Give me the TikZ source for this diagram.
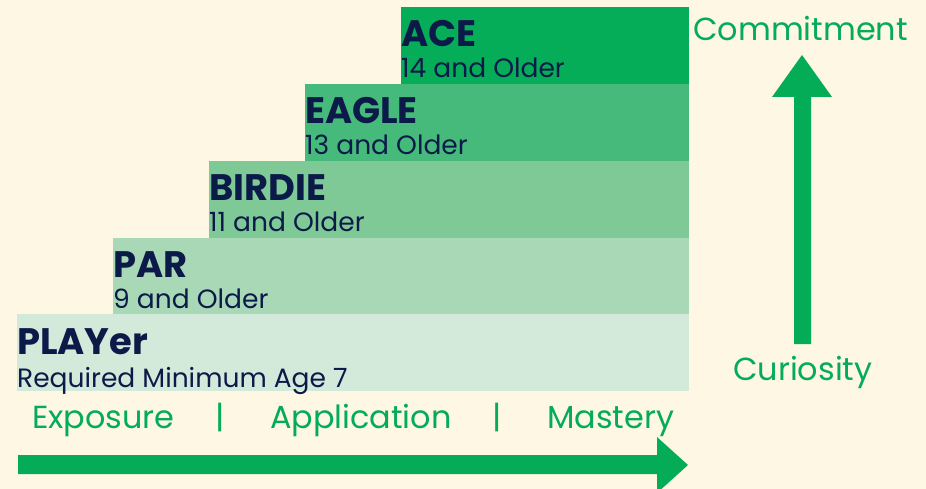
\documentclass[tikz,border=0pt]{standalone}
\usepackage{fontspec}
\setmainfont{Poppins}
\definecolor{bg}{HTML}{FDF7E3}
\definecolor{navy}{HTML}{0B1A48}
\definecolor{gr}{HTML}{04AC58}
\definecolor{cA}{HTML}{05AD58}
\definecolor{cB}{HTML}{45BA7B}
\definecolor{cC}{HTML}{7FC997}
\definecolor{cD}{HTML}{A8D8B6}
\definecolor{cE}{HTML}{D3E9D9}
\tikzset{
  lvl/.style={rectangle, inner sep=0pt, outer sep=0pt, draw=none, anchor=north west, minimum height=77bp},
  ttl/.style={inner sep=0pt, anchor=base west, text=navy, font=\fontsize{37}{42}\selectfont\bfseries},
  sub/.style={inner sep=0pt, anchor=base west, text=navy, font=\fontsize{26.6}{30}\selectfont},
  gtxt/.style={inner sep=0pt, anchor=base west, text=gr, font=\fontsize{32}{38}\selectfont},
}
\begin{document}
\begin{tikzpicture}[x=1bp,y=-1bp]
\fill[bg] (0,0) rectangle (926,489);
\useasboundingbox (0,0) rectangle (926,489);
% levels
\node[lvl, fill=cA, minimum width=288bp] (ace) at (401,7) {};
\node[lvl, fill=cB, minimum width=384bp] (eagle) at (305,84) {};
\node[lvl, fill=cC, minimum width=480bp] (birdie) at (209,161) {};
\node[lvl, fill=cD, minimum width=576bp] (par) at (113,238) {};
\node[lvl, fill=cE, minimum width=672bp] (player) at (17,314) {};
% texts
\node[ttl] (acet) at (401,47) {ACE};
\node[sub] (aces) at (401,78) {14 and Older};
\node[ttl] (eaglet) at (305,124) {EAGLE};
\node[sub] (eagles) at (305,155) {13 and Older};
\node[ttl] (birdiet) at (209,201) {BIRDIE};
\node[sub] (birdies) at (209,232) {11 and Older};
\node[ttl] (part) at (113,278) {PAR};
\node[sub] (pars) at (113,309) {9 and Older};
\node[ttl] (playert) at (17,355) {PLAYer};
\node[sub] (players) at (17,387) {Required Minimum Age 7};
% bottom labels
\node[gtxt] (expo) at (32,428) {Exposure};
\node[gtxt, anchor=base] (bar1) at (220,428) {|};
\node[gtxt] (appl) at (270,428) {Application};
\node[gtxt, anchor=base] (bar2) at (497,428) {|};
\node[gtxt] (mast) at (547,428) {Mastery};
% side labels
\node[gtxt] (commit) at (693,41) {Commitment};
\node[gtxt] (curio) at (733,380) {Curiosity};
% horizontal arrow
\fill[gr] (18,455) -- (657,455) -- (657,437) -- (688,465) -- (657,493) -- (657,474) -- (18,474) -- cycle;
% vertical arrow
\fill[gr] (794,344) -- (794,97) -- (772,97) -- (802,55) -- (832,97) -- (811,97) -- (811,344) -- cycle;
\end{tikzpicture}
\end{document}
